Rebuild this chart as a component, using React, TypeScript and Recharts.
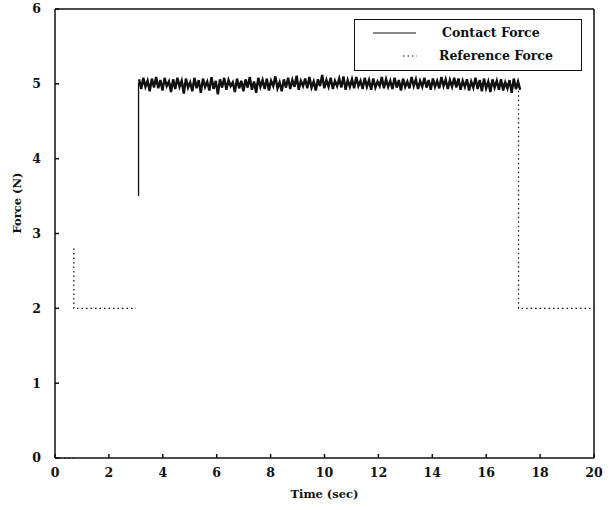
import { Line, LineChart, XAxis, YAxis, Legend } from "recharts";

const xTicks = [0, 2, 4, 6, 8, 10, 12, 14, 16, 18, 20];
const yTicks = [0, 1, 2, 3, 4, 5, 6];

// contact force samples, starting at t = 3.12 s, one every 0.079 s
const contactStart = 3.12;
const contactStep = 0.079;
const contactValues = [
  5.06, 4.93, 5.08, 4.96, 5.04, 4.9, 5.07, 4.95, 5.09, 4.94,
  5.05, 4.91, 5.08, 4.97, 5.03, 4.89, 5.06, 4.93, 5.08, 4.96,
  5.04, 4.87, 5.07, 4.95, 5.02, 4.9, 5.08, 4.94, 5.05, 4.88,
  5.07, 4.96, 5.03, 4.91, 5.09, 4.93, 5.04, 4.86, 5.06, 4.95,
  5.08, 4.92, 5.05, 4.97, 5.02, 4.89, 5.07, 4.94, 5.04, 4.9,
  5.06, 4.95, 5.09, 4.92, 5.03, 4.88, 5.08, 4.96, 5.05, 4.93,
  5.07, 4.91, 5.04, 4.97, 5.1, 4.94, 5.02, 4.9, 5.06, 4.95,
  5.08, 4.93, 5.05, 4.96, 5.11, 4.92, 5.04, 4.97, 5.07, 4.94,
  5.09, 4.95, 5.03, 4.91, 5.06, 4.97, 5.12, 4.94, 5.05, 4.96,
  5.08, 4.93, 5.04, 4.97, 5.07, 4.95, 5.1, 4.92, 5.05, 4.96,
  5.06, 4.94, 5.09, 4.97, 5.04, 4.93, 5.08, 4.96, 5.05, 4.92,
  5.07, 4.95, 5.03, 4.97, 5.09, 4.94, 5.06, 4.96, 5.04, 4.93,
  5.08, 4.95, 5.05, 4.91, 5.07, 4.96, 5.03, 4.94, 5.09, 4.97,
  5.06, 4.93, 5.04, 4.96, 5.08, 4.95, 5.05, 4.92, 5.07, 4.96,
  5.04, 4.94, 5.09, 4.97, 5.06, 4.93, 5.05, 4.96, 5.08, 4.95,
  5.07, 4.92, 5.04, 4.96, 5.06, 4.91, 5.03, 4.95, 5.08, 4.93,
  5.05, 4.9, 5.07, 4.94, 5.03, 4.89, 5.06, 4.95, 5.04, 4.92,
  5.06, 4.91, 5.02, 4.94, 5.05, 4.88, 5.07, 4.93, 5.03, 4.92,
];

const contactData = contactValues.map((f, i) => ({ t: contactStart + i * contactStep, f }));
// the step up when contact is made
const contactRise = [
  { t: 3.1, f: 3.5 },
  { t: 3.1, f: 5.02 },
];

const referenceTimes = [0, 0.7, 0.7, 0.7, 0.7, 3.0, 3.0, 3.1, 17.2, 17.2, 20];
const referenceValues = [0, 0, null, 2.8, 2, 2, null, 5, 5, 2, 2];
const referenceData = referenceTimes.map((t, i) => ({ t, f: referenceValues[i] }));

const font = "'DejaVu Serif', serif";

const LegendBox = () => (
  <div
    style={{
      position: "absolute",
      left: 354,
      top: 19,
      width: 228,
      height: 52,
      border: "1.5px solid #111",
      background: "#fff",
      fontFamily: font,
      fontWeight: "bold",
      fontSize: 12.5,
      boxSizing: "border-box",
    }}
  >
    <svg width={226} height={50} style={{ position: "absolute", left: 0, top: 0 }}>
      <line x1={18} x2={61} y1={13} y2={13} stroke="#111" strokeWidth={1.2} />
      <line x1={48} x2={62} y1={36} y2={36} stroke="#111" strokeWidth={1.2} strokeDasharray="1.5 3" />
      <text x={87} y={17} fill="#111">Contact Force</text>
      <text x={84} y={40} fill="#111">Reference Force</text>
    </svg>
  </div>
);

export default function App() {
  return (
    <div style={{ position: "absolute", left: 0, top: 0, background: "#fff" }}>
      <LineChart width={611} height={510} margin={{ top: 8, right: 16, bottom: 22, left: 25 }}>
        <XAxis
          xAxisId="bottom"
          dataKey="t"
          type="number"
          domain={[0, 20]}
          ticks={xTicks}
          allowDataOverflow
          stroke="#111"
          strokeWidth={1.5}
          tickSize={-4}
          tickMargin={14}
          height={30}
          tick={{ fill: "#111", fontSize: 12.5, fontWeight: "bold", fontFamily: font }}
          label={{ value: "Time (sec)", position: "insideBottom", offset: -10, fill: "#111", fontSize: 11.5, fontWeight: "bold", fontFamily: font }}
        />
        <XAxis
          xAxisId="top"
          orientation="top"
          type="number"
          domain={[0, 20]}
          ticks={xTicks}
          stroke="#111"
          strokeWidth={1.5}
          tickSize={-4}
          tick={false}
          height={1}
        />
        <YAxis
          yAxisId="left"
          type="number"
          domain={[0, 6]}
          ticks={yTicks}
          stroke="#111"
          strokeWidth={1.5}
          tickSize={-4}
          tickMargin={18}
          width={30}
          tick={{ fill: "#111", fontSize: 12.5, fontWeight: "bold", fontFamily: font }}
          label={{ value: "Force (N)", angle: -90, position: "insideLeft", offset: -8, fill: "#111", fontSize: 11.5, fontWeight: "bold", fontFamily: font }}
        />
        <YAxis
          yAxisId="right"
          orientation="right"
          type="number"
          domain={[0, 6]}
          ticks={yTicks}
          stroke="#111"
          strokeWidth={1.5}
          tickSize={-4}
          tick={false}
          width={1}
        />
        <Legend content={<LegendBox />} wrapperStyle={{ position: "absolute", left: 0, top: 0, width: 0, height: 0 }} />
        <Line
          xAxisId="bottom"
          yAxisId="left"
          data={referenceData}
          dataKey="f"
          type="linear"
          stroke="#111"
          strokeWidth={1.2}
          strokeDasharray="1.5 3"
          dot={false}
          connectNulls={false}
          isAnimationActive={false}
          name="Reference Force"
        />
        <Line
          xAxisId="bottom"
          yAxisId="left"
          data={contactRise}
          dataKey="f"
          type="linear"
          stroke="#111"
          strokeWidth={1.3}
          dot={false}
          isAnimationActive={false}
          legendType="none"
        />
        <Line
          xAxisId="bottom"
          yAxisId="left"
          data={contactData}
          dataKey="f"
          type="linear"
          stroke="#111"
          strokeWidth={2.4}
          dot={false}
          isAnimationActive={false}
          name="Contact Force"
        />
      </LineChart>
    </div>
  );
}
